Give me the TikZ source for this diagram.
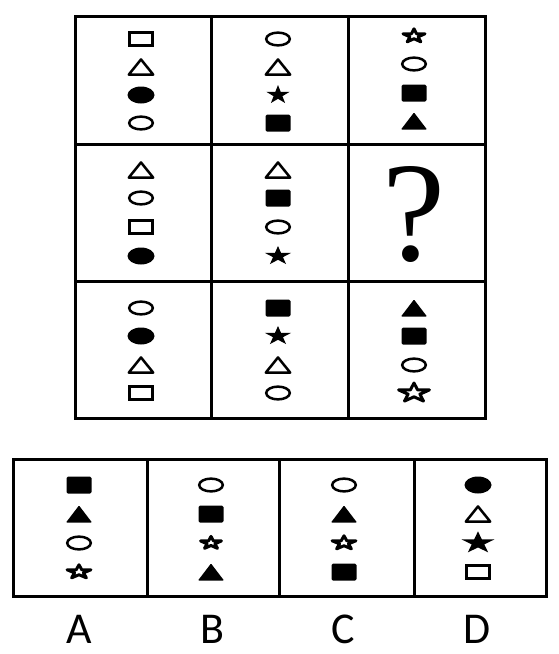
\documentclass[tikz,border=0pt]{standalone}
\usepackage{fontspec}
\newfontfamily\lblfont{Carlito}
\newfontfamily\qfont{Liberation Serif}
\tikzset{
  gridline/.style={line width=3pt},
  shapeline/.style={line width=2.5pt},
  orect/.pic={\draw[shapeline] (-11.5,-6.5) rectangle (11.5,6.5);},
  frect/.pic={\fill[rounded corners=1.5pt] (-12.5,-8.5) rectangle (12.5,8.5);},
  oell/.pic={\draw[shapeline] (0,0) ellipse [x radius=11.8pt, y radius=6.4pt];},
  fell/.pic={\fill (0,0) ellipse [x radius=13.5pt, y radius=8.5pt];},
  otri/.pic={\draw[shapeline, line join=round] (-12.2,7.6) -- (12.2,7.6) -- (0,-7.6) -- cycle;},
  ftri/.pic={\fill[rounded corners=0.8pt] (-13,8.5) -- (13,8.5) -- (0,-8.5) -- cycle;},
  fstar/.pic={\fill (-90:1) -- (-54:0.382) -- (-18:1) -- (18:0.382) -- (54:1) -- (90:0.382) -- (126:1) -- (162:0.382) -- (198:1) -- (234:0.382) -- cycle;},
  ostar/.pic={\draw[line width=3pt, line join=round] (-90:1) -- (-54:0.382) -- (-18:1) -- (18:0.382) -- (54:1) -- (90:0.382) -- (126:1) -- (162:0.382) -- (198:1) -- (234:0.382) -- cycle;},
  lbl/.style={font=\lblfont\fontsize{44}{44}\selectfont, anchor=base, inner sep=0pt},
}
\begin{document}
\begin{tikzpicture}[x=1pt,y=-1pt]
\useasboundingbox (0,0) rectangle (558,654);
% main grid
\draw[gridline] (75,16) rectangle (485,418);
\draw[gridline] (211,16) -- (211,418);
\draw[gridline] (348,16) -- (348,418);
\draw[gridline] (75,144) -- (485,144);
\draw[gridline] (75,281) -- (485,281);
% row 1
\pic at (141,39) {orect};
\pic at (141,67) {otri};
\pic at (141,95) {fell};
\pic at (141,123) {oell};
\pic at (278,39) {oell};
\pic at (278,67) {otri};
\pic[xscale=12.1,yscale=9.95] at (278,95) {fstar};
\pic at (278,123) {frect};
\pic[xscale=11.5,yscale=7.2] at (414,36) {ostar};
\pic at (414,64) {oell};
\pic at (414,93) {frect};
\pic at (414,121) {ftri};
% row 2
\pic at (141,170) {otri};
\pic at (141,198) {oell};
\pic at (141,227) {orect};
\pic at (141,256) {fell};
\pic at (278,170) {otri};
\pic at (278,198) {frect};
\pic at (278,227) {oell};
\pic[xscale=13.7,yscale=9.95] at (278,256) {fstar};
\node[font=\qfont\fontsize{142}{142}\selectfont, anchor=base, inner sep=0pt] (q) at (414,260) {?};
% row 3
\pic at (141,308) {oell};
\pic at (141,336) {fell};
\pic at (141,365) {otri};
\pic at (141,393) {orect};
\pic at (278,308) {frect};
\pic[xscale=13.7,yscale=9.95] at (278,336) {fstar};
\pic at (278,365) {otri};
\pic at (278,393) {oell};
\pic at (414,308) {ftri};
\pic at (414,336) {frect};
\pic at (414,365) {oell};
\pic[xscale=16.2,yscale=10.0] at (414,393) {ostar};
% options box
\draw[gridline] (13,459) rectangle (546,596);
\draw[gridline] (147,459) -- (147,596);
\draw[gridline] (279,459) -- (279,596);
\draw[gridline] (414,459) -- (414,596);
% A
\pic at (79,485) {frect};
\pic at (79,514) {ftri};
\pic at (79,543) {oell};
\pic[xscale=12.5,yscale=7.2] at (79,572) {ostar};
% B
\pic at (211,485) {oell};
\pic at (211,514) {frect};
\pic[xscale=11.0,yscale=6.6] at (211,543) {ostar};
\pic at (211,572) {ftri};
% C
\pic at (344,485) {oell};
\pic at (344,514) {ftri};
\pic[xscale=12.5,yscale=7.2] at (344,543) {ostar};
\pic at (344,572) {frect};
% D
\pic at (478,485) {fell};
\pic at (478,514) {otri};
\pic[xscale=17.3,yscale=11.6] at (478,543) {fstar};
\pic at (478,572) {orect};
% labels
\node[lbl] (la) at (79,643) {A};
\node[lbl] (lb) at (212,643) {B};
\node[lbl] (lc) at (343,643) {C};
\node[lbl] (ld) at (477,643) {D};
\end{tikzpicture}
\end{document}
